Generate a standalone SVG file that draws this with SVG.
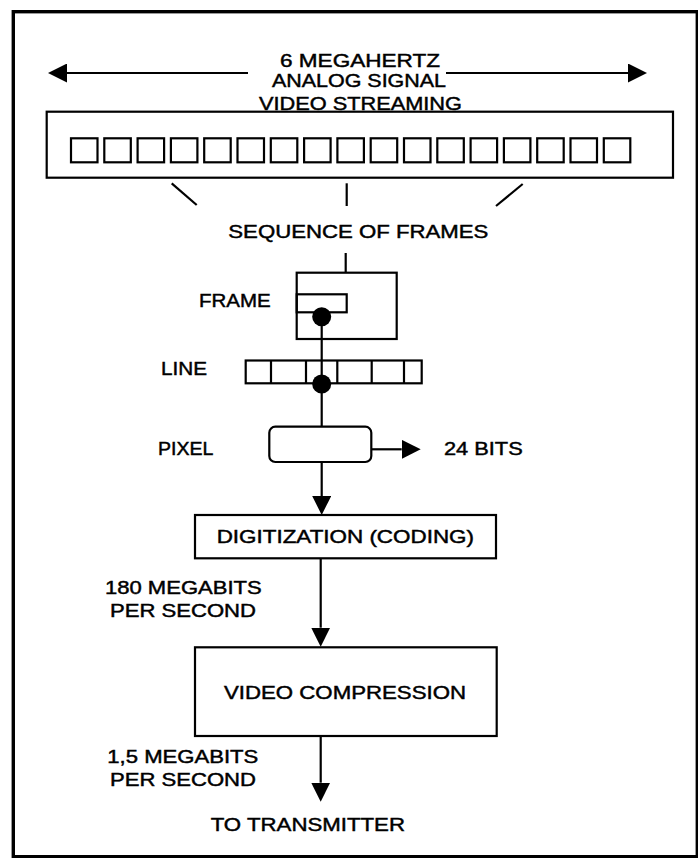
<svg xmlns="http://www.w3.org/2000/svg" width="698" height="858" viewBox="0 0 698 858">
<style>
.frame{fill:none;stroke:#000;stroke-width:3.4}
.box{fill:none;stroke:#000;stroke-width:2.2}
.ln{fill:none;stroke:#000;stroke-width:2.2}
.t{font-family:"Liberation Sans",Arial,sans-serif;font-size:18.5px;fill:#000;stroke:#000;stroke-width:0.45}
.dot{fill:#000}
</style>
<defs>
<marker id="ah" markerUnits="userSpaceOnUse" viewBox="0 0 19 19" markerWidth="19" markerHeight="19" refX="0" refY="9.5" orient="auto-start-reverse">
<path d="M0,0 L19,9.5 L0,19 Z" fill="#000"/>
</marker>
</defs>
<rect width="698" height="858" fill="#fff"/>
<rect class="frame" x="13.3" y="11.7" width="684" height="845"/>

<g id="signal-label">
<text class="t" x="280" y="66.7" textLength="160" lengthAdjust="spacingAndGlyphs">6 MEGAHERTZ</text>
<text class="t" x="272" y="87.3" textLength="174" lengthAdjust="spacingAndGlyphs">ANALOG SIGNAL</text>
<text class="t" x="259" y="110" textLength="203" lengthAdjust="spacingAndGlyphs">VIDEO STREAMING</text>
</g>

<g id="stream">
<rect class="box" x="46.7" y="111.7" width="626.3" height="66"/>
<g class="box">
<rect x="71" y="138.3" width="26.5" height="24"/>
<rect x="104.3" y="138.3" width="26.5" height="24"/>
<rect x="137.6" y="138.3" width="26.5" height="24"/>
<rect x="170.9" y="138.3" width="26.5" height="24"/>
<rect x="204.2" y="138.3" width="26.5" height="24"/>
<rect x="237.5" y="138.3" width="26.5" height="24"/>
<rect x="270.8" y="138.3" width="26.5" height="24"/>
<rect x="304.1" y="138.3" width="26.5" height="24"/>
<rect x="337.4" y="138.3" width="26.5" height="24"/>
<rect x="370.7" y="138.3" width="26.5" height="24"/>
<rect x="404" y="138.3" width="26.5" height="24"/>
<rect x="437.3" y="138.3" width="26.5" height="24"/>
<rect x="470.6" y="138.3" width="26.5" height="24"/>
<rect x="503.9" y="138.3" width="26.5" height="24"/>
<rect x="537.2" y="138.3" width="26.5" height="24"/>
<rect x="570.5" y="138.3" width="26.5" height="24"/>
<rect x="603.8" y="138.3" width="26.5" height="24"/>
</g>
</g>

<g id="sequence">
<text class="t" x="228.3" y="238.3" textLength="260" lengthAdjust="spacingAndGlyphs">SEQUENCE OF FRAMES</text>
</g>

<g id="frame">
<text class="t" x="199" y="306.7" textLength="71.7" lengthAdjust="spacingAndGlyphs">FRAME</text>
<rect class="box" x="296.7" y="272.7" width="100" height="66.3"/>
<rect class="box" x="296.7" y="294.3" width="50" height="18"/>
<circle class="dot" cx="321.7" cy="316.7" r="9.5"/>
</g>

<g id="line">
<text class="t" x="161" y="375" textLength="46" lengthAdjust="spacingAndGlyphs">LINE</text>
<rect class="box" x="245.7" y="360.5" width="176" height="22.8"/>
<path class="ln" d="M271,360.5 V383.3 M306,360.5 V383.3 M337.3,360.5 V383.3 M371.7,360.5 V383.3 M404,360.5 V383.3"/>
<circle class="dot" cx="321.7" cy="384" r="9.5"/>
</g>

<g id="pixel">
<text class="t" x="158" y="455" textLength="55.3" lengthAdjust="spacingAndGlyphs">PIXEL</text>
<rect class="box" x="269.3" y="426.7" width="102" height="35.3" rx="6" ry="6"/>
</g>

<g id="bits">
<text class="t" x="444" y="455" textLength="78.7" lengthAdjust="spacingAndGlyphs">24 BITS</text>
</g>

<g id="digitization">
<rect class="box" x="195" y="515" width="301" height="43.3"/>
<text class="t" x="216.7" y="543.3" textLength="257.3" lengthAdjust="spacingAndGlyphs">DIGITIZATION (CODING)</text>
</g>

<g id="rate1">
<text class="t" x="105" y="594.3" textLength="156.7" lengthAdjust="spacingAndGlyphs">180 MEGABITS</text>
<text class="t" x="110" y="616.7" textLength="146" lengthAdjust="spacingAndGlyphs">PER SECOND</text>
</g>

<g id="compression">
<rect class="box" x="195" y="647.3" width="301.7" height="88.7"/>
<text class="t" x="224" y="699.3" textLength="242" lengthAdjust="spacingAndGlyphs">VIDEO COMPRESSION</text>
</g>

<g id="rate2">
<text class="t" x="107.3" y="763.3" textLength="151" lengthAdjust="spacingAndGlyphs">1,5 MEGABITS</text>
<text class="t" x="110" y="785.7" textLength="146" lengthAdjust="spacingAndGlyphs">PER SECOND</text>
</g>

<g id="transmitter">
<text class="t" x="210.7" y="830.7" textLength="194.3" lengthAdjust="spacingAndGlyphs">TO TRANSMITTER</text>
</g>

<g id="connectors">
<line class="ln" x1="67" y1="73" x2="248" y2="73" marker-start="url(#ah)"/>
<line class="ln" x1="446" y1="73" x2="628" y2="73" marker-end="url(#ah)"/>
<line class="ln" x1="171.7" y1="183.3" x2="196.7" y2="205"/>
<line class="ln" x1="346.7" y1="183.3" x2="346.7" y2="206"/>
<line class="ln" x1="522.7" y1="184" x2="496" y2="206"/>
<line class="ln" x1="345.7" y1="253" x2="345.7" y2="272.7"/>
<line class="ln" x1="321.7" y1="316.7" x2="321.7" y2="426.7"/>
<line class="ln" x1="321.7" y1="462" x2="321.7" y2="496" marker-end="url(#ah)"/>
<line class="ln" x1="371.3" y1="449.3" x2="401.7" y2="449.3" marker-end="url(#ah)"/>
<line class="ln" x1="320.7" y1="558.3" x2="320.7" y2="627.7" marker-end="url(#ah)"/>
<line class="ln" x1="320.7" y1="736" x2="320.7" y2="782.7" marker-end="url(#ah)"/>
</g>
</svg>
